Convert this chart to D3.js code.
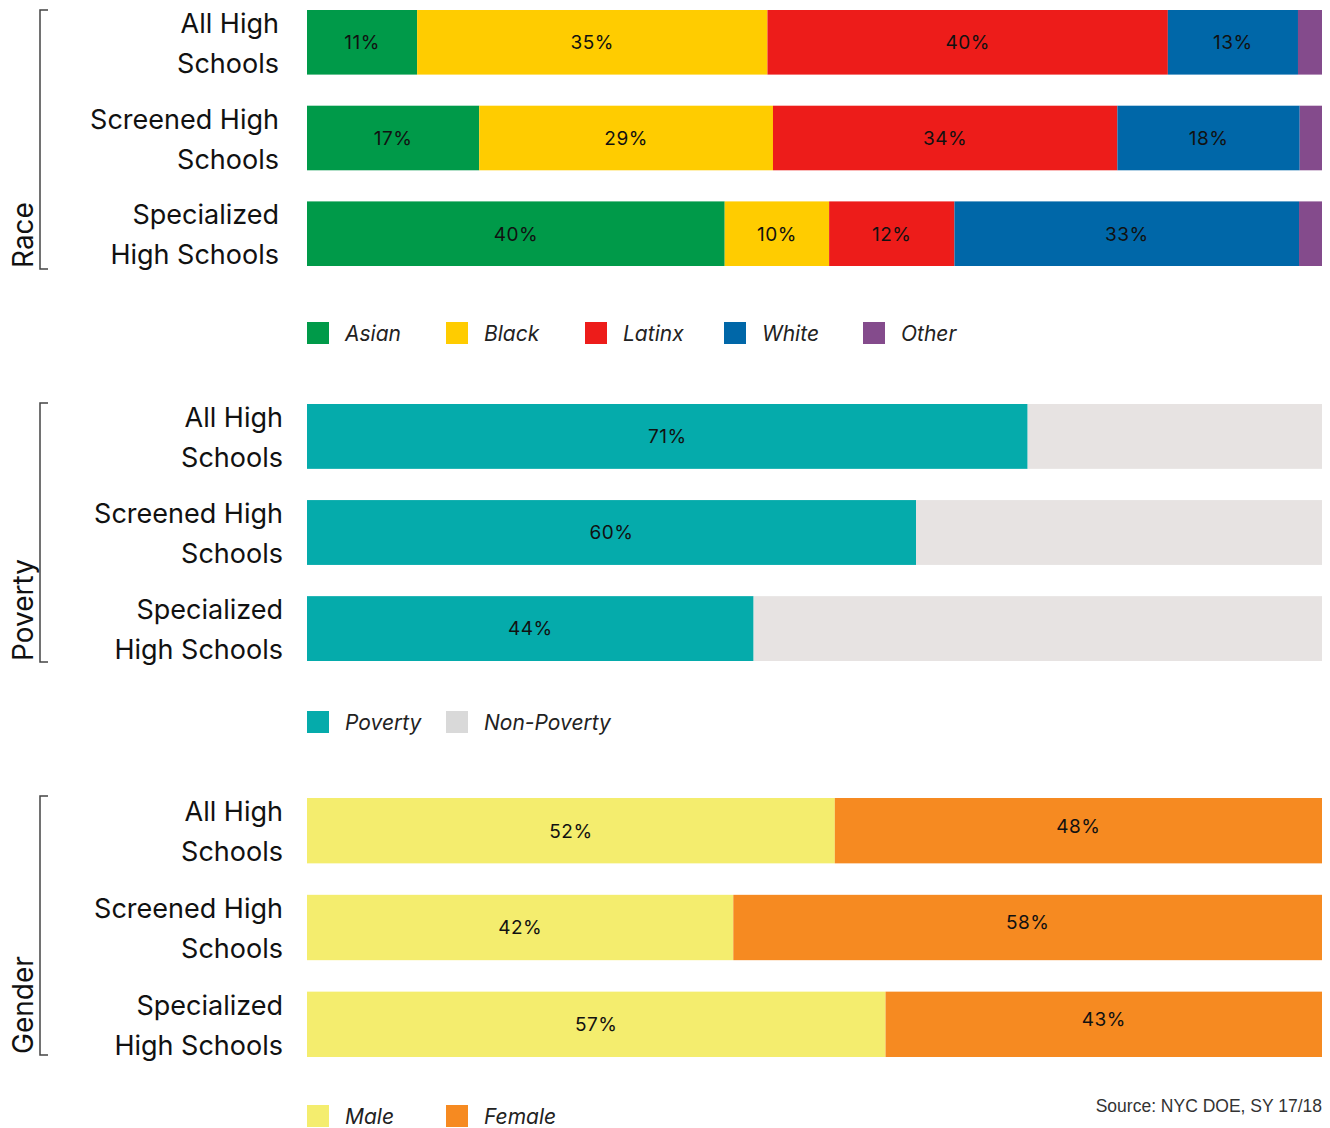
<!DOCTYPE html>
<html>
<head>
<meta charset="utf-8">
<script src="https://cdn.jsdelivr.net/npm/d3@7/dist/d3.min.js"></script>
<style>
  html, body { margin: 0; padding: 0; background: #fff; }
  svg { display: block; }
  text { font-family: Inter, "Noto Sans", sans-serif; fill: #111; }
</style>
</head>
<body>
<svg id="chart" width="1330" height="1128"></svg>
<script>
// School groups shown in every panel
const schools = ["All High Schools", "Screened High Schools", "Specialized High Schools"];
const schoolLines = [["All High", "Schools"], ["Screened High", "Schools"], ["Specialized", "High Schools"]];

// Race / ethnicity shares (%)
const raceKeys = ["Asian", "Black", "Latinx", "White", "Other"];
const asian  = [11, 17, 40];
const black  = [35, 29, 10];
const latinx = [40, 34, 12];
const white  = [13, 18, 33];
const other  = [2.4, 2.2, 2.2];
const raceColors = ["#009a49", "#ffcc00", "#ed1c1a", "#0067a8", "#844b8c"];

// Poverty shares (%)
const povertyKeys = ["Poverty", "Non-Poverty"];
const poverty    = [71, 60, 44];
const nonPoverty = [29, 40, 56];
const povertyColors = ["#05abab", "#e7e3e2"];
const povertyLegendColors = ["#05abab", "#d9d9d9"];

// Gender shares (%)
const genderKeys = ["Male", "Female"];
const male   = [52, 42, 57];
const female = [48, 58, 43];
const genderColors = ["#f4ed6e", "#f68a21"];

const panels = [
  { title: "Race", keys: raceKeys, series: [asian, black, latinx, white, other],
    colors: raceColors, legendColors: raceColors, labelled: [0, 1, 2, 3],
    top: 10, bottom: 266, bracket: [10, 269], labelX: 279, legendY: 333, shift: [] },
  { title: "Poverty", keys: povertyKeys, series: [poverty, nonPoverty],
    colors: povertyColors, legendColors: povertyLegendColors, labelled: [0],
    top: 404, bottom: 661, bracket: [403, 662], labelX: 283, legendY: 722, shift: [] },
  { title: "Gender", keys: genderKeys, series: [male, female],
    colors: genderColors, legendColors: genderColors, labelled: [0, 1],
    top: 798, bottom: 1057, bracket: [796, 1055], labelX: 283, legendY: 1116, shift: [0, -5] }
];

const svg = d3.select("#chart");
const x = d3.scaleLinear().domain([0, 1]).range([307, 1322]);

panels.forEach(p => {
  const rows = schools.map((s, i) => {
    const r = { school: s };
    p.keys.forEach((k, j) => r[k] = p.series[j][i]);
    return r;
  });
  const stacked = d3.stack().keys(p.keys).offset(d3.stackOffsetExpand)(rows);

  const y = d3.scaleBand().domain(schools)
    .range([p.top, p.bottom]).paddingInner(0.325).paddingOuter(0);

  const g = svg.append("g");

  // stacked segments
  stacked.forEach((layer, j) => {
    g.append("g").attr("fill", p.colors[j])
      .selectAll("rect").data(layer).join("rect")
      .attr("x", d => x(d[0]))
      .attr("y", d => y(d.data.school))
      .attr("width", d => x(d[1]) - x(d[0]))
      .attr("height", y.bandwidth());
  });

  // value labels
  p.labelled.forEach(j => {
    const layer = stacked[j];
    const dy = p.shift[j] || 0;
    g.append("g").selectAll("text").data(layer).join("text")
      .attr("x", d => (x(d[0]) + x(d[1])) / 2)
      .attr("y", d => y(d.data.school) + y.bandwidth() / 2 + dy)
      .attr("dy", "0.36em")
      .attr("text-anchor", "middle")
      .style("font-size", "19px")
      .style("letter-spacing", "0.5px")
      .text(d => p.series[j][schools.indexOf(d.data.school)] + "%");
  });

  // category labels, two lines each
  schools.forEach((s, i) => {
    const cy = y(s) + y.bandwidth() / 2;
    const t = g.append("text")
      .attr("text-anchor", "end")
      .style("font-size", "27px");
    schoolLines[i].forEach((line, k) => {
      t.append("tspan").attr("x", p.labelX)
        .attr("y", cy - 9.5 + k * 40).text(line);
    });
  });

  // bracket and section title
  const [b0, b1] = p.bracket;
  g.append("path")
    .attr("d", `M48,${b0}H40V${b1}H48`)
    .attr("fill", "none").attr("stroke", "#444").attr("stroke-width", 1.5);
  g.append("text")
    .attr("transform", `translate(33,${b1 - 1}) rotate(-90)`)
    .style("font-size", "28px")
    .text(p.title);

  // legend
  const lg = g.append("g").selectAll("g").data(p.keys).join("g")
    .attr("transform", (d, j) => `translate(${307 + j * 139},${p.legendY})`);
  lg.append("rect").attr("x", 0).attr("y", -11).attr("width", 22).attr("height", 22)
    .attr("fill", (d, j) => p.legendColors[j]);
  lg.append("text").attr("x", 38).attr("dy", "0.36em")
    .style("font-size", "21px").style("font-style", "italic").style("fill", "#222")
    .text(d => d);
});

svg.append("text")
  .attr("x", 1322).attr("y", 1112)
  .attr("text-anchor", "end")
  .style("font-family", "'Liberation Sans Narrow', 'Arial Narrow', sans-serif")
  .style("font-size", "17.5px").style("fill", "#333")
  .text("Source: NYC DOE, SY 17/18");
</script>
</body>
</html>
